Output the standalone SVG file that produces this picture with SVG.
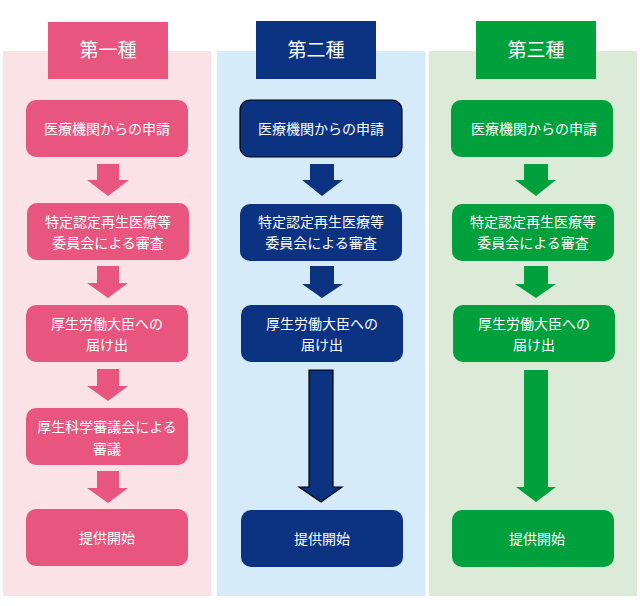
<svg xmlns="http://www.w3.org/2000/svg" width="640" height="606" viewBox="0 0 640 606">
<style>
text{font-family:"Noto Sans CJK JP","Noto Sans CJK SC",sans-serif;fill:#fff;text-anchor:middle}
.t{font-size:14px}
.h{font-size:19px}
.p{fill:#E8557F}
.n{fill:#0B3382}
.g{fill:#00A13C}
.ns{stroke:#000;stroke-width:1.2}
</style>
<rect width="640" height="606" fill="#fff"/>
<rect x="3" y="51" width="208" height="545" fill="#FBE2E7"/>
<rect x="217" y="51" width="208" height="545" fill="#D5EBF9"/>
<rect x="429" y="51" width="208" height="545" fill="#DCEAD8"/>

<g id="connectors">
<polygon class="p" points="97,164 119,164 119,180 129,180 108,196 87,180 97,180"/>
<polygon class="p" points="97,266 119,266 119,283 128,283 108,298 87,283 97,283"/>
<polygon class="p" points="97,369 119,369 119,386 128,386 108,401 87,386 97,386"/>
<polygon class="p" points="97,471 119,471 119,488 128,488 108,503 87,488 97,488"/>
<polygon class="n" points="310,164 334,164 334,180 343,180 322,196 302,180 310,180"/>
<polygon class="n" points="310,266 334,266 334,284 343,284 322,298 302,284 310,284"/>
<polygon class="n ns" points="309,370 333,370 333,487 342,487 321,502 299,487 309,487"/>
<polygon class="g" points="524,164 548,164 548,180 556,180 536,196 515,180 524,180"/>
<polygon class="g" points="524,266 548,266 548,284 556,284 536,298 515,284 524,284"/>
<polygon class="g" points="524,370 548,370 548,487 556,487 536,502 516,487 524,487"/>
</g>

<g id="h1"><rect class="p" x="48" y="22" width="120" height="57"/><text class="h" x="108" y="57">第一種</text></g>
<g id="h2"><rect class="n" x="256" y="21" width="120" height="58"/><text class="h" x="316" y="57">第二種</text></g>
<g id="h3"><rect class="g" x="476" y="21" width="120" height="58"/><text class="h" x="536" y="57">第三種</text></g>

<g id="p1"><rect class="p" x="26" y="100" width="162" height="57" rx="10"/><text class="t" x="107" y="134">医療機関からの申請</text></g>
<g id="p2"><rect class="p" x="27" y="203" width="162" height="57" rx="10"/><text class="t" x="108" y="227">特定認定再生医療等</text><text class="t" x="108" y="248">委員会による審査</text></g>
<g id="p3"><rect class="p" x="26" y="305" width="162" height="57" rx="10"/><text class="t" x="107" y="329">厚生労働大臣への</text><text class="t" x="107" y="350">届け出</text></g>
<g id="p4"><rect class="p" x="26" y="408" width="162" height="57" rx="10"/><text class="t" x="107" y="432">厚生科学審議会による</text><text class="t" x="107" y="454">審議</text></g>
<g id="p5"><rect class="p" x="26" y="509" width="162" height="57" rx="10"/><text class="t" x="107" y="543">提供開始</text></g>

<g id="n1"><rect class="n ns" x="240" y="100" width="162" height="57" rx="10"/><text class="t" x="321" y="134">医療機関からの申請</text></g>
<g id="n2"><rect class="n" x="240" y="204" width="162" height="57" rx="10"/><text class="t" x="321" y="227">特定認定再生医療等</text><text class="t" x="321" y="248">委員会による審査</text></g>
<g id="n3"><rect class="n" x="241" y="305" width="162" height="57" rx="10"/><text class="t" x="322" y="329">厚生労働大臣への</text><text class="t" x="322" y="350">届け出</text></g>
<g id="n5"><rect class="n" x="241" y="510" width="162" height="57" rx="10"/><text class="t" x="322" y="544">提供開始</text></g>

<g id="g1"><rect class="g" x="451" y="100" width="162" height="57" rx="10"/><text class="t" x="534" y="134">医療機関からの申請</text></g>
<g id="g2"><rect class="g" x="452" y="204" width="162" height="57" rx="10"/><text class="t" x="533" y="227">特定認定再生医療等</text><text class="t" x="533" y="248">委員会による審査</text></g>
<g id="g3"><rect class="g" x="453" y="305" width="162" height="57" rx="10"/><text class="t" x="534" y="329">厚生労働大臣への</text><text class="t" x="534" y="350">届け出</text></g>
<g id="g5"><rect class="g" x="452" y="510" width="162" height="57" rx="10"/><text class="t" x="537" y="544">提供開始</text></g>
</svg>
